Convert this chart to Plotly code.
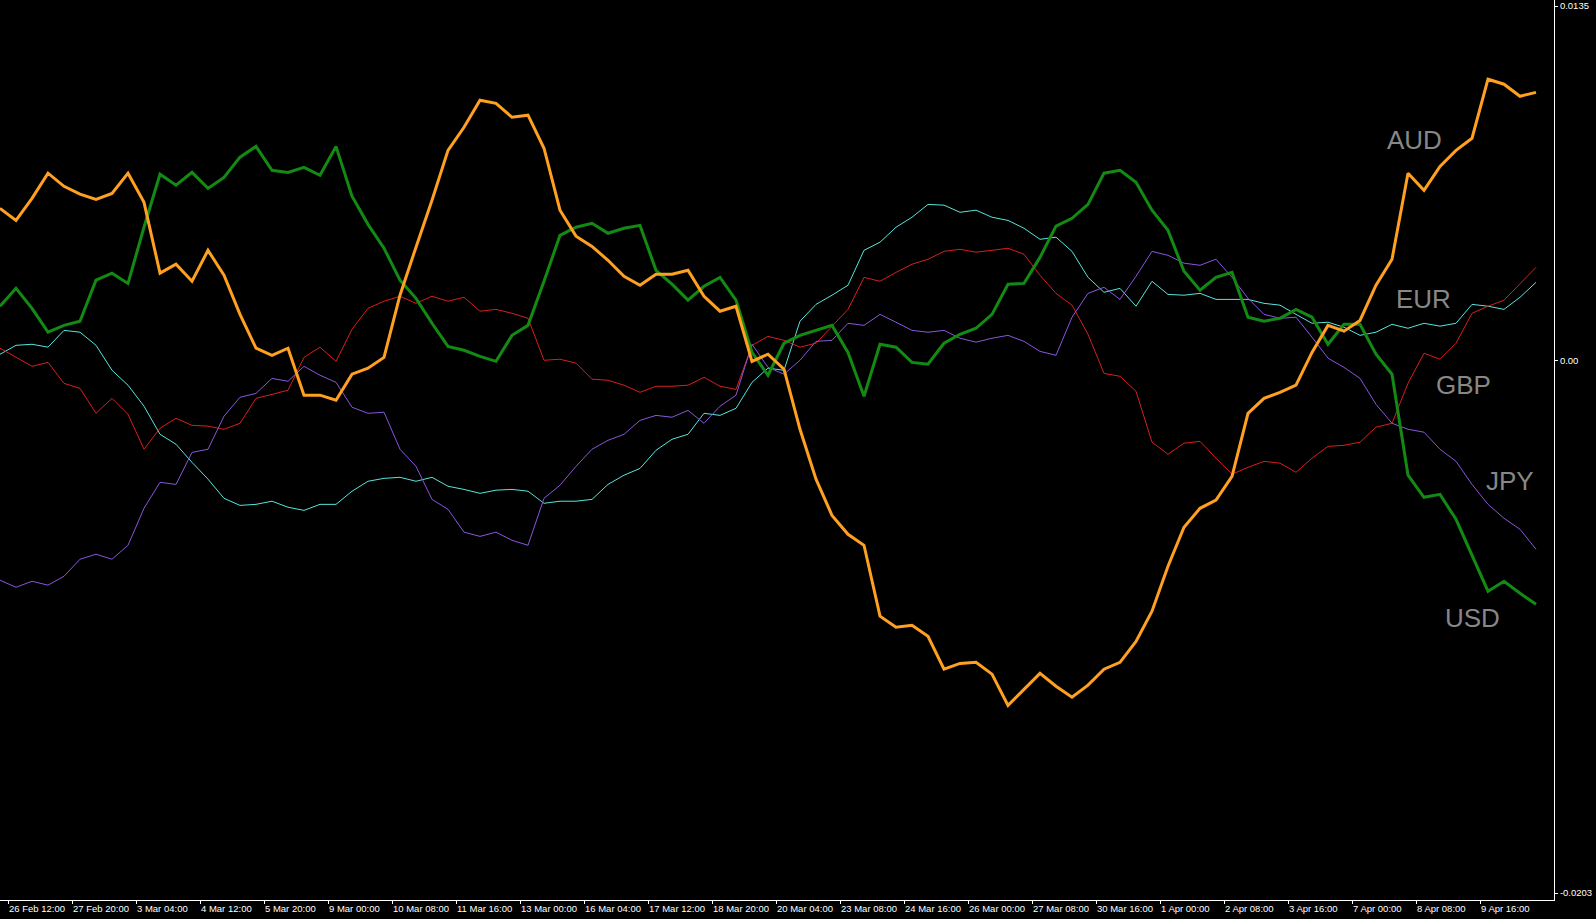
import plotly.graph_objects as go

# ---- x axis: 4h bars, one label every 8 bars ----
tick_labels = ["26 Feb 12:00", "27 Feb 20:00", "3 Mar 04:00", "4 Mar 12:00", "5 Mar 20:00",
               "9 Mar 00:00", "10 Mar 08:00", "11 Mar 16:00", "13 Mar 00:00", "16 Mar 04:00",
               "17 Mar 12:00", "18 Mar 20:00", "20 Mar 04:00", "23 Mar 08:00", "24 Mar 16:00",
               "26 Mar 00:00", "27 Mar 08:00", "30 Mar 16:00", "1 Apr 00:00", "2 Apr 08:00",
               "3 Apr 16:00", "7 Apr 00:00", "8 Apr 08:00", "9 Apr 16:00"]
tick_bars = list(range(0, 8 * len(tick_labels), 8))
bars = list(range(-1, 192, 2))  # sampled bar index

# ---- series values, in units of 1e-4 ----
aud = [57.9, 53.3, 61.7, 71.3, 66.3, 63.3, 61.3, 63.6, 71.3, 60.2,
       33.2, 36.6, 30.1, 41.9, 32.4, 17.5, 4.6, 1.9, 4.6, -13.3,
       -13.3, -15.2, -5.3, -3.0, 1.1, 24.8, 43.1, 61.0, 80.0, 88.8,
       99.1, 97.9, 92.6, 93.4, 80.8, 57.2, 47.3, 43.4, 38.1, 32.0,
       28.6, 32.8, 32.8, 34.3, 24.4, 18.7, 20.6, -0.4, 2.3, -3.4,
       -26.3, -45.3, -59.1, -66.3, -70.5, -97.5, -101.7, -101.0, -105.2, -117.7,
       -115.5, -115.1, -119.6, -131.5, -125.4, -119.3, -124.2, -128.4, -123.8, -117.7,
       -115.1, -107.1, -95.6, -78.5, -63.6, -56.4, -53.3, -44.2, -20.2, -14.5,
       -12.2, -9.5, 3.0, 13.3, 11.1, 15.2, 28.6, 38.5, 71.3, 64.8,
       73.9, 80.0, 84.6, 107.1, 105.2, 100.6, 102.1]
usd = [20.6, 27.4, 19.8, 10.7, 13.3, 14.9, 30.5, 33.2, 29.3, 50.7,
       70.9, 66.7, 71.6, 65.5, 69.7, 77.4, 81.5, 72.4, 71.6, 73.5,
       70.5, 81.5, 62.5, 51.8, 42.7, 30.5, 23.6, 14.1, 5.3, 3.8,
       1.5, -0.4, 9.5, 13.3, 30.1, 47.6, 50.7, 52.2, 48.4, 50.3,
       51.4, 34.3, 29.0, 22.9, 28.2, 31.6, 22.9, 3.0, -5.7, 6.5,
       9.5, 11.4, 13.3, 3.0, -13.7, 6.1, 5.0, -0.8, -1.5, 6.5,
       9.9, 12.2, 17.5, 29.0, 29.3, 39.2, 51.1, 54.1, 59.4, 71.3,
       72.4, 67.8, 57.2, 49.5, 33.9, 26.7, 31.6, 33.5, 16.4, 14.9,
       16.0, 19.4, 16.4, 6.1, 13.7, 13.7, 2.3, -5.3, -43.8, -52.2,
       -51.1, -60.6, -74.3, -88.0, -84.2, -88.8, -93.0]
eur = [2.3, 5.7, 6.1, 5.0, 11.4, 10.7, 5.7, -3.8, -9.5, -17.5,
       -28.2, -32.0, -38.9, -45.3, -52.6, -55.3, -54.9, -53.7, -56.0, -57.2,
       -54.9, -54.9, -49.9, -46.1, -45.0, -44.6, -46.1, -44.6, -48.0, -49.2,
       -50.7, -49.5, -49.2, -49.9, -54.5, -53.7, -53.7, -53.0, -47.3, -43.8,
       -41.2, -34.3, -30.1, -28.2, -20.2, -21.0, -18.3, -8.4, -3.0, -3.8,
       14.9, 21.3, 24.8, 28.6, 41.9, 45.0, 50.7, 54.5, 59.4, 59.1,
       56.4, 57.2, 54.5, 53.3, 50.3, 46.1, 46.9, 41.5, 31.6, 25.9,
       27.4, 20.6, 30.1, 25.1, 24.8, 25.5, 23.2, 23.2, 23.2, 21.7,
       21.0, 17.5, 14.1, 14.5, 12.6, 9.5, 10.7, 13.7, 12.2, 14.1,
       13.0, 14.1, 21.3, 20.6, 19.4, 24.0, 29.7]
gbp = [4.6, 1.1, -2.3, -0.8, -8.8, -10.7, -20.2, -14.5, -20.6, -33.9,
       -25.9, -22.1, -24.8, -25.1, -26.3, -24.0, -14.5, -13.0, -11.4, 1.1,
       5.0, -0.4, 11.8, 19.8, 22.5, 24.4, 21.7, 24.4, 22.5, 24.0,
       18.7, 19.4, 17.9, 16.0, 0.0, 0.4, -1.1, -7.2, -7.6, -9.5,
       -12.2, -9.9, -9.9, -9.5, -6.5, -9.9, -11.1, 5.7, 9.1, 7.6,
       5.0, 6.5, 13.0, 19.4, 31.6, 30.1, 33.5, 36.6, 38.5, 41.5,
       42.3, 41.2, 41.9, 42.7, 40.4, 32.4, 25.5, 21.0, 9.9, -5.0,
       -6.1, -11.8, -31.2, -35.8, -31.6, -30.9, -37.3, -43.4, -40.8, -38.5,
       -39.2, -42.7, -37.3, -32.8, -32.4, -31.2, -25.5, -24.0, -8.8, 2.7,
       0.4, 6.5, 17.9, 20.6, 22.9, 29.3, 35.4]
jpy = [-83.8, -86.5, -84.2, -85.7, -82.3, -75.8, -73.9, -75.8, -70.5, -56.4,
       -46.5, -47.3, -35.1, -33.9, -21.3, -14.1, -12.6, -6.9, -8.0, -2.3,
       -5.7, -8.4, -17.9, -20.2, -19.8, -33.9, -40.4, -53.0, -56.8, -65.5,
       -67.1, -65.5, -68.6, -70.5, -52.6, -47.6, -40.4, -33.9, -30.5, -28.2,
       -22.9, -21.0, -21.7, -19.1, -24.0, -17.5, -13.3, 6.1, -2.7, -5.3,
       0.0, 7.2, 7.6, 14.1, 13.3, 17.5, 14.5, 11.4, 10.7, 11.4,
       8.4, 6.9, 8.4, 9.5, 7.2, 3.4, 1.9, 16.4, 25.5, 27.8,
       23.2, 32.0, 41.5, 40.0, 37.0, 36.2, 38.5, 31.6, 23.6, 17.5,
       16.0, 16.4, 8.8, 0.8, -2.7, -6.9, -16.8, -24.0, -26.3, -27.4,
       -33.9, -38.5, -47.3, -54.9, -60.2, -64.4, -72.0]
UNIT = 1e-4

y_tick_vals = [0.0135, 0.0, -0.0203]
y_tick_text = ["0.0135", "0.00", "-0.0203"]

# label positions (bar index, value)
label_names = ["AUD", "EUR", "GBP", "JPY", "USD"]
label_bars = [175.8, 176.9, 181.9, 187.8, 183.0]
label_vals = [0.0084, 0.00232, -0.00096, -0.00459, -0.00982]

series = [
    ("EUR", eur, "#55E6DC", 1),
    ("GBP", gbp, "#D91E1E", 1),
    ("JPY", jpy, "#8A55DD", 1),
    ("USD", usd, "#138A13", 3),
    ("AUD", aud, "#FFA020", 3),
]

fig = go.Figure()
for name, vals, color, width in series:
    fig.add_trace(go.Scatter(
        x=bars, y=[v * UNIT for v in vals], mode="lines", name=name,
        line=dict(color=color, width=width), hoverinfo="skip"))

for n, bx, vy in zip(label_names, label_bars, label_vals):
    fig.add_annotation(x=bx, y=vy, xref="x", yref="y", text=n, showarrow=False,
                       xanchor="center", yanchor="middle",
                       font=dict(family="Liberation Sans", size=26, color="#878787"))

px_per_unit = 26243.0
y_top = 0.0135 + 6 / px_per_unit
y_bot = y_top - 900 / px_per_unit

fig.update_layout(
    width=1596, height=919, autosize=False,
    paper_bgcolor="black", plot_bgcolor="black",
    margin=dict(l=0, r=42, t=0, b=19, pad=0),
    showlegend=False,
    xaxis=dict(range=[-1, 193.25], tickmode="array", tickvals=tick_bars, ticktext=tick_labels,
               ticks="outside", ticklen=3, tickcolor="white", showline=True, linecolor="white",
               linewidth=1, showgrid=False, zeroline=False, automargin=False,
               ticklabelposition="outside right", tickangle=0,
               tickfont=dict(family="Liberation Sans", size=9.5, color="white")),
    yaxis=dict(range=[y_bot, y_top], side="right", tickmode="array", tickvals=y_tick_vals,
               ticktext=y_tick_text, ticks="outside", ticklen=3, tickcolor="white",
               showline=True, linecolor="white", linewidth=1, showgrid=False, zeroline=False,
               automargin=False,
               tickfont=dict(family="Liberation Sans", size=9.5, color="white")),
)

fig.write_html("out.html", config={"displayModeBar": False},
               post_script="document.body.style.margin='0';document.body.style.overflow='hidden';")
